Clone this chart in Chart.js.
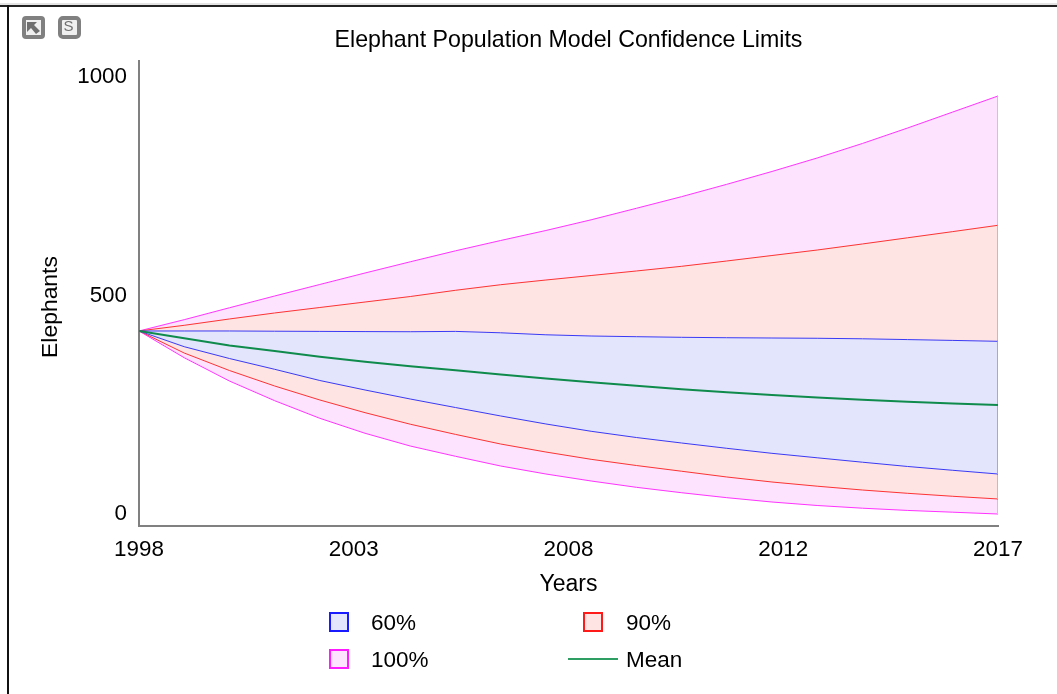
<!DOCTYPE html>
<html>
<head>
<meta charset="utf-8">
<style>html,body{margin:0;padding:0;background:#fff;overflow:hidden}canvas{display:block}</style>
<script src="https://cdn.jsdelivr.net/npm/chart.js@4"></script>
</head>
<body>
<canvas id="c" width="1057" height="694"></canvas>
<script>
const years = [1998,1999,2000,2001,2002,2003,2004,2005,2006,2007,2008,2009,2010,2011,2012,2013,2014,2015,2016,2017];
const hi100 = [419.4,443.7,469.3,494.6,519.4,544.1,568.2,591.8,614,635.5,658.5,683.2,708.2,734.8,762.4,791.4,822.6,855.9,890.3,924.7];
const lo100 = [419.4,361.9,311.8,269.5,231.6,199.4,172,149.9,129,111.8,96.8,83.2,71.6,60.9,51.6,44.1,38.3,33.5,29.7,25.8];
const hi90 = [419.4,431.6,445.2,458.1,469.9,481.7,493.5,506.9,518.9,529,538.7,548.4,558.5,569.9,581.7,593.5,606.5,619.8,633.1,646.7];
const lo90 = [419.4,372,334.4,301.1,271,243.7,218.9,197,176.3,159.1,143.4,130.1,117.8,105.4,94.6,85.6,77.4,70.3,63.9,58.1];
const hi60 = [419.4,419.4,419.4,418.9,418.5,418.1,417.8,418.5,415.5,411.2,408.6,407.1,405.8,404.9,404.3,403.7,402.6,400.9,399.1,397.2];
const lo60 = [419.4,385.6,360.2,337,312.9,292.5,273.1,254.8,236.6,219.4,203.7,190.3,178.5,167.1,156.3,146.7,137.2,128,119.8,111.8];
const meanValues = [419.4,403.7,388.2,376.3,364.1,353.3,343.7,334.8,325.8,317.2,309,301.5,294.2,287.5,281.7,276.3,271.6,267.3,263.7,260.2];
const xTickLabels = ['1998','2003','2008','2012','2017'];
const xTickValues = [1998,2002.75,2007.5,2012.25,2017];
const yTickValues = [0,500,1000];

const FONT = '"Liberation Sans", Arial, sans-serif';
const C = {
  p:{line:'#ff33ff', fill:'#fde3fe'},
  r:{line:'#ff3333', fill:'#fee4e3'},
  b:{line:'#3a3af5', fill:'#e3e5fc'},
  m:'#0f8b4c'
};
const pts = a => a.map((v,i)=>({x:years[i], y:v}));
const last = a => a[a.length-1];
const edge = (hi,lo,col,order) => ({label:'edge', data:[{x:last(years),y:last(hi)},{x:last(years),y:last(lo)}],
  borderColor:col, borderWidth:1, pointRadius:0, fill:false, order});
const band = (name,hi,lo,col,order,idx) => [
  {label:name, data:pts(hi), borderColor:col.line, backgroundColor:col.fill, borderWidth:1, pointRadius:0, tension:0, fill:{target:idx+1}, order},
  {label:name+' lower', data:pts(lo), borderColor:col.line, borderWidth:1, pointRadius:0, tension:0, fill:false, order:order-0.5}
];
const datasets = [
  ...band('100%',hi100,lo100,C.p,30,0),
  ...band('90%',hi90,lo90,C.r,20,2),
  ...band('60%',hi60,lo60,C.b,10,4),
  {label:'Mean', data:pts(meanValues), borderColor:C.m, borderWidth:2, pointRadius:0, tension:0, fill:false, order:1},
  edge(hi100,lo100,'#ff99ff',29),
  edge(hi90,lo90,'#ff9999',19),
  edge(hi60,lo60,'#9999fa',9)
];

const legendRows = [
  {kind:'box', text:'60%', col:'#1a1aff', fill:C.b.fill, sx:329, tx:371, y:622},
  {kind:'box', text:'90%', col:'#ff1a1a', fill:C.r.fill, sx:583, tx:626, y:622},
  {kind:'box', text:'100%', col:'#ff1aff', fill:C.p.fill, sx:329, tx:371, y:659},
  {kind:'line', text:'Mean', col:'#2e9e62', sx:568, tx:626, y:659}
];

const decor = {
  id:'decor',
  afterLayout(chart){
    const s = chart.scales.yLabels;
    s.top += 13.5; s.bottom += 13.5;
  },
  beforeDraw(chart){
    const c = chart.ctx;
    c.save();
    c.fillStyle='#e4e4e4'; c.fillRect(0,3,1057,2);
    c.fillStyle='#222'; c.fillRect(0,5,1057,2);
    c.fillStyle='#111'; c.fillRect(7,5,2,689);
    c.restore();
  },
  afterDraw(chart){
    const c = chart.ctx;
    c.save();
    // tool icons
    c.strokeStyle='#808080'; c.lineWidth=4; c.fillStyle='#f0f0f0';
    c.beginPath(); c.roundRect(24,18,19,19,2); c.fill(); c.stroke();
    c.beginPath(); c.roundRect(60,18,19,19,3); c.fill(); c.stroke();
    c.fillStyle='#707070';
    c.beginPath(); c.moveTo(27,22); c.lineTo(37,22); c.lineTo(34,25); c.lineTo(40,31); c.lineTo(36,34); c.lineTo(31,28); c.lineTo(27,32); c.closePath(); c.fill();
    c.font='15px '+FONT; c.textAlign='center'; c.textBaseline='middle';
    c.fillText('S',68.5,27);
    // legend
    c.textAlign='left'; c.font='22.5px '+FONT;
    legendRows.forEach(r=>{
      if(r.kind==='box'){
        c.fillStyle=r.fill; c.strokeStyle=r.col; c.lineWidth=2;
        c.fillRect(r.sx+1,r.y-9,18,18); c.strokeRect(r.sx+1,r.y-9,18,18);
      } else {
        c.strokeStyle=r.col; c.lineWidth=2;
        c.beginPath(); c.moveTo(r.sx,r.y); c.lineTo(r.sx+50,r.y); c.stroke();
      }
      c.fillStyle='#000'; c.fillText(r.text,r.tx,r.y+2);
    });
    c.restore();
  }
};

new Chart(document.getElementById('c'),{
  type:'line',
  data:{datasets},
  plugins:[decor],
  options:{
    responsive:false, animation:false, events:[],
    layout:{padding:{left:0,top:0,right:59,bottom:96}},
    plugins:{
      legend:{display:false}, tooltip:{enabled:false},
      title:{display:true, text:'Elephant Population Model Confidence Limits', fullSize:false,
        color:'#000', font:{family:FONT,size:23.2,weight:'normal',lineHeight:1}, padding:{top:29,bottom:8.8}}
    },
    scales:{
      x:{type:'linear', min:1998, max:2017,
        afterBuildTicks(s){ s.ticks = xTickValues.map(v=>({value:v})); },
        afterFit(s){ s.height = 72; },
        grid:{display:false, drawTicks:false},
        border:{color:'#808080', width:2},
        ticks:{color:'#000', font:{family:FONT,size:22.4}, padding:10, maxRotation:0, autoSkip:false,
          callback:(v,i)=>xTickLabels[i]},
        title:{display:true, text:'Years', color:'#000', font:{family:FONT,size:23}, padding:{top:0,bottom:0}}
      },
      y:{type:'linear', position:'left', min:0, max:1000, weight:0,
        afterFit(s){ s.width = 0; },
        grid:{display:false, drawTicks:false},
        border:{color:'#808080', width:2},
        ticks:{display:false}
      },
      yLabels:{type:'linear', position:'left', min:-27, max:1037, weight:1,
        afterBuildTicks(s){ s.ticks = yTickValues.map(v=>({value:v})); },
        afterFit(s){ s.width = 139; },
        grid:{display:false, drawTicks:false},
        border:{display:false},
        ticks:{color:'#000', font:{family:FONT,size:22.4}, padding:12, autoSkip:false,
          callback:v=>String(v)},
        title:{display:true, text:'Elephants', color:'#000', font:{family:FONT,size:22.9}, padding:{top:37,bottom:0}}
      }
    }
  }
});
</script>
</body>
</html>
